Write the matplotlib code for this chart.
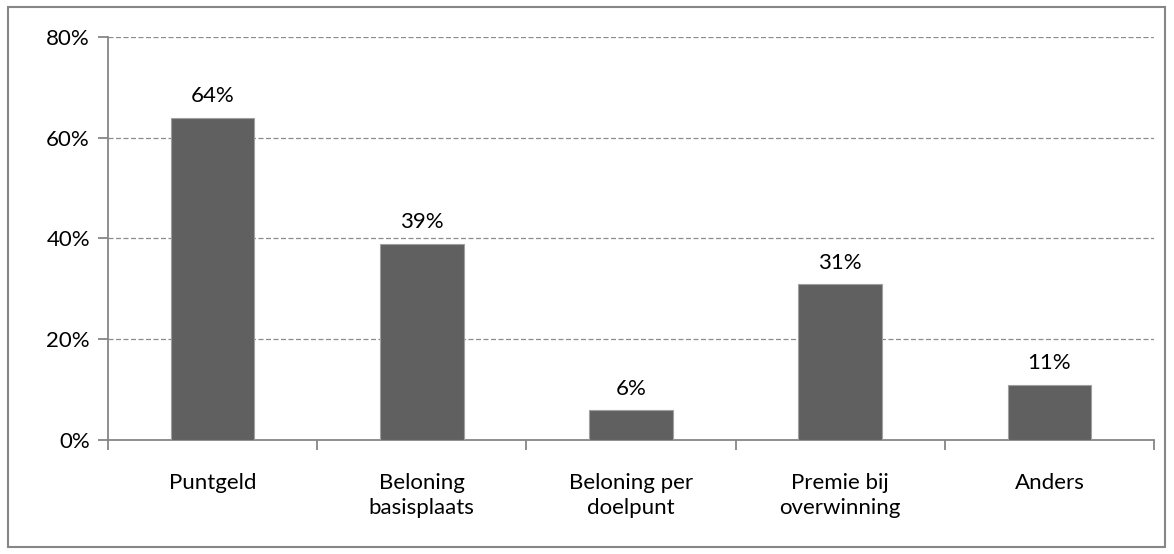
import matplotlib.pyplot as plt
from matplotlib.patches import Rectangle
from matplotlib.ticker import FuncFormatter, MultipleLocator

# Beloningsvormen en aandeel (%)
categories = ['Puntgeld', 'Beloning\nbasisplaats', 'Beloning per\ndoelpunt',
              'Premie bij\noverwinning', 'Anders']
values = [64, 39, 6, 31, 11]

plt.rcParams['font.family'] = ['Lato', 'DejaVu Sans']
FS = 16

fig = plt.figure(figsize=(11.74, 5.54), dpi=100)
fig.patches.append(Rectangle((8 / 1174, 7 / 554), 1157 / 1174, 540 / 554,
                             transform=fig.transFigure, fill=False,
                             edgecolor='#868686', linewidth=1.5))

ax = fig.add_axes([108 / 1174, 1 - 440 / 554, 1046 / 1174, 403 / 554])
x = range(len(categories))
ax.bar(x, values, width=0.4, color='#606060', edgecolor='#a0a0a0',
       linewidth=0.8, zorder=3)

for xi, v in zip(x, values):
    ax.annotate(f'{v}%', (xi, v), xytext=(0, 8), textcoords='offset points',
                ha='center', va='bottom', fontsize=FS)

ax.set_xlim(-0.5, len(categories) - 0.5)
ax.set_ylim(0, 80)
ax.yaxis.set_major_locator(MultipleLocator(20))
ax.yaxis.set_major_formatter(FuncFormatter(lambda v, _: f'{v:.0f}%'))
ax.grid(axis='y', linestyle=(0, (4, 2)), color='#8c8c8c', linewidth=0.9,
        zorder=0)

# categorie-labels in het midden, tickstreepjes op de grenzen
ax.set_xticks(list(x))
ax.set_xticklabels(categories, fontsize=FS, linespacing=1.3)
ax.tick_params(axis='x', length=0, pad=24)
ax.set_xticks([i - 0.5 for i in range(len(categories) + 1)], minor=True)
ax.tick_params(axis='x', which='minor', length=7, color='#868686', width=1.3)
ax.tick_params(axis='y', length=7, color='#868686', width=1.3, labelsize=FS,
               pad=6)

for side in ['top', 'right']:
    ax.spines[side].set_visible(False)
for side in ['left', 'bottom']:
    ax.spines[side].set_color('#868686')
    ax.spines[side].set_linewidth(1.3)

fig.savefig('out.png', dpi=100)
